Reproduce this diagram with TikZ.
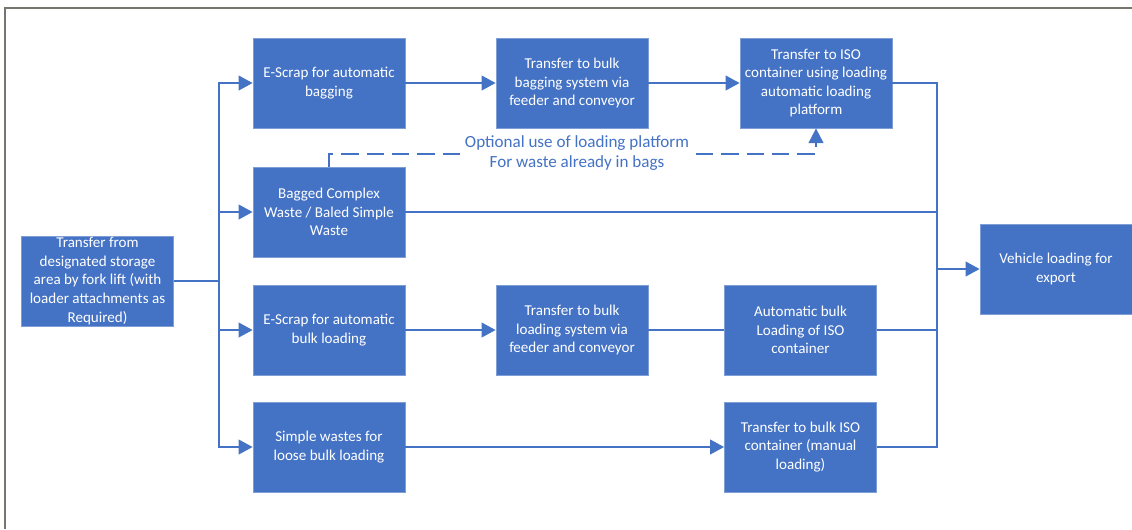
\documentclass[tikz,border=0pt]{standalone}
\usepackage{fontspec}
\setmainfont{Carlito}
\usetikzlibrary{arrows.meta}
\definecolor{officeblue}{HTML}{4472C4}
\definecolor{boxedge}{HTML}{7F9ED6}
\definecolor{framegray}{HTML}{76766E}
\begin{document}
\begin{tikzpicture}[x=0.75pt,y=-0.75pt,
  procbox/.style={rectangle,fill=officeblue,draw=boxedge,line width=0.6pt,
    minimum width=114pt,minimum height=67.5pt,inner sep=0pt,
    text=white,align=center,font=\fontsize{11.3}{13.9}\selectfont},
  link/.style={draw=officeblue,line width=1.5pt},
  arr/.style={link,-{Triangle[length=10.5pt,width=11pt]}},
  optional/.style={draw=officeblue,line width=1.5pt,dash pattern=on 13pt off 6pt,
    -{Triangle[length=11pt,width=11pt]}},
  note/.style={fill=white,text=officeblue,align=center,inner sep=2pt,
    font=\fontsize{12.8}{15.2}\selectfont}]
\useasboundingbox (0,0) rectangle (1132,529);
% frame
\draw[framegray,line width=1.5pt] (5,529) -- (5,8) -- (1132,8);

% source
\node[procbox] (src) at (97.5,281) {Transfer from\\designated storage\\area by fork lift (with\\loader attachments as\\Required)};

% second column
\node[procbox] (bagA) at (329,83) {E-Scrap for automatic\\bagging};
\node[procbox] (bagB) at (329,212) {Bagged Complex\\Waste / Baled Simple\\Waste};
\node[procbox] (bulkA) at (329,330) {E-Scrap for automatic\\bulk loading};
\node[procbox] (looseA) at (329,447) {Simple wastes for\\loose bulk loading};

% third column
\node[procbox] (bagC) at (572,83) {Transfer to bulk\\bagging system via\\feeder and conveyor};
\node[procbox] (bulkB) at (572,330) {Transfer to bulk\\loading system via\\feeder and conveyor};

% fourth column
\node[procbox] (iso) at (816,83) {Transfer to ISO\\container using loading\\automatic loading\\platform};
\node[procbox] (bulkC) at (800.5,330) {Automatic bulk\\Loading of ISO\\container};
\node[procbox] (looseB) at (800.5,447) {Transfer to bulk ISO\\container (manual\\loading)};

% destination
\node[procbox] (veh) at (1056,269) {Vehicle loading for\\export};

% left distribution bus
\coordinate (jL) at (219,281);
\draw[link] (src.east) -- (jL);
\draw[arr] (jL) |- (bagA.west);
\draw[arr] (jL) |- (bagB.west);
\draw[arr] (jL) |- (bulkA.west);
\draw[arr] (jL) |- (looseA.west);

% process chains
\draw[arr] (bagA) -- (bagC);
\draw[arr] (bagC) -- (iso);
\draw[arr] (bulkA) -- (bulkB);
\draw[link] (bulkB) -- (bulkC);
\draw[arr] (looseA) -- (looseB);

% right collection bus
\coordinate (jR) at (937,269);
\draw[link] (iso.east) -| (jR);
\draw[link] (looseB.east) -| (jR);
\draw[link] (bagB.east) -- (bagB.east -| jR);
\draw[link] (bulkC.east) -- (bulkC.east -| jR);
\draw[arr] (jR) -- (veh.west);

% optional route via the loading platform
\draw[optional] (bagB.north) -- ++(0,-13) -| (iso.south);
\node[note] (opt) at (577,153) {Optional use of loading platform\\For waste already in bags};
\end{tikzpicture}
\end{document}
